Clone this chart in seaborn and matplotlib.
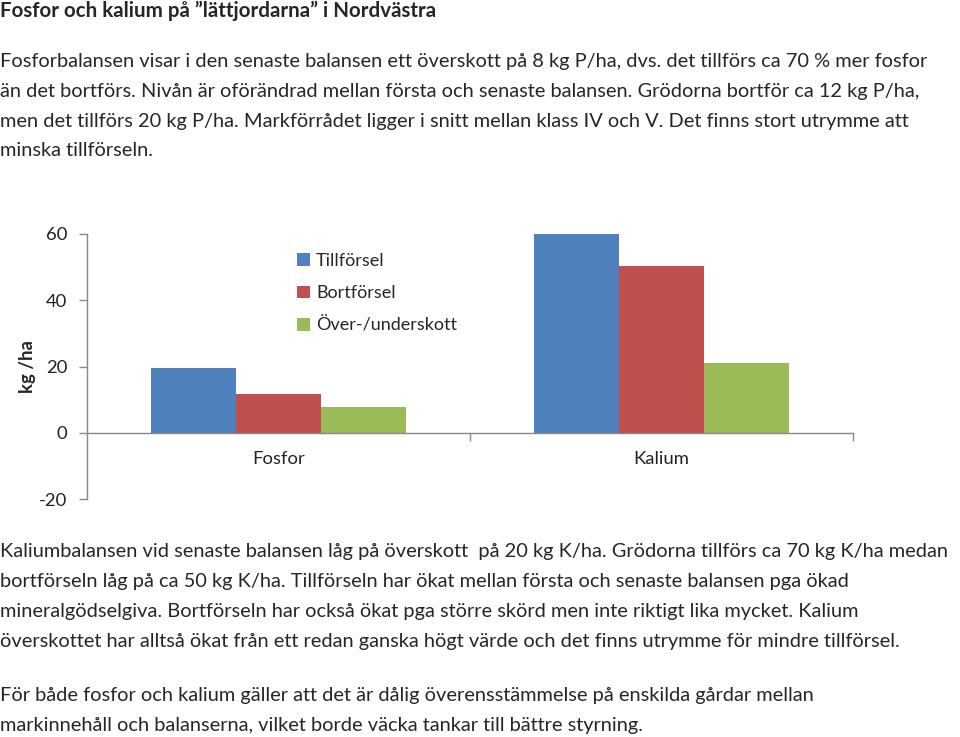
"""Fosfor och kalium på lättjordarna i Nordvästra - grouped bar chart with text."""
import matplotlib
matplotlib.use("Agg")
import matplotlib.pyplot as plt
import pandas as pd
import seaborn as sns

categories = ["Fosfor", "Kalium"]
series = ["Tillförsel", "Bortförsel", "Över-/underskott"]
tillforsel = [19.6, 60.0]
bortforsel = [11.8, 50.3]
overskott = [7.8, 21.1]
colors = ["#4F81BD", "#C0504D", "#9BBB59"]
yticks = [-20, 0, 20, 40, 60]

title = "Fosfor och kalium på \u201dlättjordarna\u201d i Nordvästra"
top_lines = [
    "Fosforbalansen visar i den senaste balansen ett överskott på 8 kg P/ha, dvs. det tillförs ca 70 % mer fosfor",
    "än det bortförs. Nivån är oförändrad mellan första och senaste balansen. Grödorna bortför ca 12 kg P/ha,",
    "men det tillförs 20 kg P/ha. Markförrådet ligger i snitt mellan klass IV och V. Det finns stort utrymme att",
    "minska tillförseln.",
]
bottom_lines = [
    "Kaliumbalansen vid senaste balansen låg på överskott  på 20 kg K/ha. Grödorna tillförs ca 70 kg K/ha medan",
    "bortförseln låg på ca 50 kg K/ha. Tillförseln har ökat mellan första och senaste balansen pga ökad",
    "mineralgödselgiva. Bortförseln har också ökat pga större skörd men inte riktigt lika mycket. Kalium",
    "överskottet har alltså ökat från ett redan ganska högt värde och det finns utrymme för mindre tillförsel.",
]
last_lines = [
    "För både fosfor och kalium gäller att det är dålig överensstämmelse på enskilda gårdar mellan",
    "markinnehåll och balanserna, vilket borde väcka tankar till bättre styrning.",
]

df = pd.DataFrame({
    "kategori": categories * 3,
    "serie": [s for s in series for _ in categories],
    "varde": tillforsel + bortforsel + overskott,
})

sns.set_theme(style="white")
plt.rcParams["font.family"] = ["Lato", "DejaVu Sans"]

W, H = 960, 737
fig = plt.figure(figsize=(W / 100, H / 100), dpi=100)
ax = fig.add_axes([87 / W, 1 - 499 / H, (853 - 87) / W, (499 - 234) / H])

sns.barplot(data=df, x="kategori", y="varde", hue="serie", palette=colors,
            width=0.667, saturation=1, linewidth=0, ax=ax, legend=True)

tick_fs = 13.3
ax.set_ylim(-20, 60)
ax.set_xlim(-0.5, 1.5)
ax.set_yticks(yticks)
ax.set_yticklabels([str(v) for v in yticks], fontsize=tick_fs, color="#222222")
ax.set_ylabel("kg /ha", fontsize=tick_fs, fontweight="bold")
ax.yaxis.set_label_coords(-0.066, 0.5)
ax.set_xlabel("")

for side in ["top", "right"]:
    ax.spines[side].set_visible(False)
ax.spines["bottom"].set_position(("data", 0))
for side in ["left", "bottom"]:
    ax.spines[side].set_color("#888888")
    ax.spines[side].set_linewidth(1)

ax.tick_params(axis="y", left=True, length=6, width=1, color="#888888", pad=8)
ax.set_xticks([0.5, 1.5], minor=True)
ax.set_xticks([0, 1])
ax.set_xticklabels(categories, fontsize=tick_fs, color="#222222")
ax.tick_params(axis="x", which="major", bottom=False, pad=7)
ax.tick_params(axis="x", which="minor", bottom=True, length=6, width=1, color="#888888")

ax.legend(loc="upper left", bbox_to_anchor=(0.253, 0.99), frameon=False,
          fontsize=13, handlelength=0.7, handleheight=0.7,
          handletextpad=0.35, labelspacing=0.9)

fs = 14.4
fig.text(0.0, 1 - 11 / H, title, fontsize=14.8, fontweight="bold", va="center", ha="left")
for i, line in enumerate(top_lines):
    fig.text(0.0, 1 - (61 + 30 * i) / H, line, fontsize=fs, va="center", ha="left")
for i, line in enumerate(bottom_lines):
    fig.text(0.0, 1 - (552 + 30 * i) / H, line, fontsize=fs, va="center", ha="left")
for i, line in enumerate(last_lines):
    fig.text(0.0, 1 - (695 + 31 * i) / H, line, fontsize=fs, va="center", ha="left")

fig.savefig("out.png", dpi=100)
